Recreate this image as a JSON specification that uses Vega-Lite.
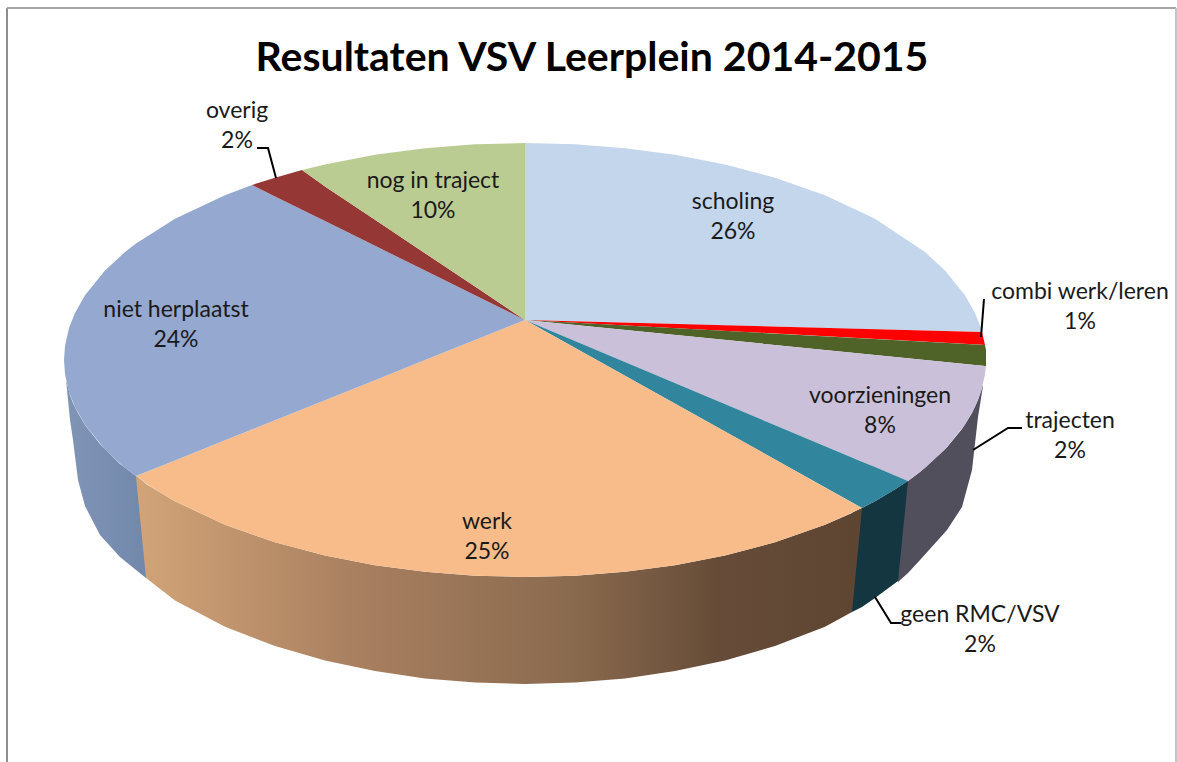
{
"$schema":"https://vega.github.io/schema/vega-lite/v6.json",
"width":1177,"height":762,"padding":0,"autosize":{"type":"none"},
"background":"#ffffff",
"config":{"view":{"stroke":null},"axis":{"disable":true}},
"title":{"text":"Resultaten VSV Leerplein 2014-2015","orient":"top","anchor":"middle","frame":"group","font":"Lato","fontWeight":"bold","fontSize":41,"color":"#000000","baseline":"middle","dx":3.5,"dy":100,"offset":0},
"resolve":{"scale":{"color":"independent"}},
"datasets":{
"frame":[
{"side":"left","x":7,"y":8},{"side":"left","x":7,"y":762},
{"side":"top","x":7,"y":8},{"side":"top","x":1176,"y":8},
{"side":"right","x":1176,"y":8},{"side":"right","x":1176,"y":762}
],
"sideGrey":[
{"x":898,"y":487.5,"y2":582},{"x":908,"y":481,"y2":573},{"x":920,"y":471.9,"y2":560},{"x":947,"y":447.3,"y2":530},{"x":962,"y":429,"y2":507},{"x":972,"y":413,"y2":470},{"x":978,"y":400,"y2":417},{"x":983,"y":385,"y2":386}
],
"sideTeal":[
{"x":852,"y":513,"y2":612},{"x":862,"y":508,"y2":607},{"x":875,"y":501.2,"y2":598},{"x":898,"y":487.5,"y2":581},{"x":908,"y":481,"y2":481}
],
"sideNiet":[
{"x":66,"y":380,"y2":380},{"x":70,"y":395,"y2":420},{"x":73,"y":403,"y2":440},{"x":78,"y":413,"y2":480},{"x":85,"y":425,"y2":506},{"x":100,"y":444,"y2":535},{"x":120,"y":464,"y2":557},{"x":136,"y":476,"y2":570},{"x":146,"y":484,"y2":578}
],
"sideWerk":[
{"x":136,"y":476.5,"y2":476.5},{"x":146,"y":484,"y2":578},{"x":175,"y":501.2,"y2":600.4},{"x":225,"y":524.8,"y2":626.7},{"x":275,"y":542.3,"y2":646},{"x":325,"y":555.5,"y2":660.6},{"x":375,"y":565.2,"y2":671.1},{"x":425,"y":571.8,"y2":678.4},{"x":475,"y":575.7,"y2":682.6},{"x":525,"y":577,"y2":684},{"x":575,"y":575.7,"y2":682.6},{"x":625,"y":571.8,"y2":678.4},{"x":675,"y":565.2,"y2":671.1},{"x":725,"y":555.5,"y2":660.6},{"x":775,"y":542.3,"y2":646},{"x":825,"y":524.8,"y2":626.7},{"x":852,"y":513,"y2":612},{"x":862,"y":508,"y2":508}
],
"slices":[
{"slice":"scholing","x":525,"y":143,"y2":320},{"slice":"scholing","x":575,"y":144.3,"y2":321.3},{"slice":"scholing","x":625,"y":148.2,"y2":322.6},{"slice":"scholing","x":675,"y":154.8,"y2":323.9},{"slice":"scholing","x":725,"y":164.5,"y2":325.3},{"slice":"scholing","x":775,"y":177.7,"y2":326.6},{"slice":"scholing","x":825,"y":195.2,"y2":327.9},{"slice":"scholing","x":875,"y":218.8,"y2":329.2},{"slice":"scholing","x":925,"y":252.1,"y2":330.5},{"slice":"scholing","x":945,"y":270.5,"y2":331},{"slice":"scholing","x":965,"y":295.2,"y2":331.6},{"slice":"scholing","x":975,"y":312.9,"y2":331.8},{"slice":"scholing","x":981,"y":328.1,"y2":332},{"slice":"scholing","x":982,"y":332,"y2":332},
{"slice":"combi werk/leren","x":525,"y":320,"y2":320},{"slice":"combi werk/leren","x":982,"y":332,"y2":344.8},{"slice":"combi werk/leren","x":985,"y":345,"y2":345},
{"slice":"trajecten","x":525,"y":320,"y2":320},{"slice":"trajecten","x":985,"y":345,"y2":365.9},{"slice":"trajecten","x":986,"y":350,"y2":366},
{"slice":"voorzieningen","x":525,"y":320,"y2":320},{"slice":"voorzieningen","x":908,"y":358.2,"y2":481},{"slice":"voorzieningen","x":925,"y":359.9,"y2":467.9},{"slice":"voorzieningen","x":945,"y":361.9,"y2":449.5},{"slice":"voorzieningen","x":965,"y":363.9,"y2":424.8},{"slice":"voorzieningen","x":975,"y":364.9,"y2":407.1},{"slice":"voorzieningen","x":981,"y":365.5,"y2":391.9},{"slice":"voorzieningen","x":985,"y":365.9,"y2":374.3},{"slice":"voorzieningen","x":986,"y":366,"y2":366},
{"slice":"geen RMC/VSV","x":525,"y":320,"y2":320},{"slice":"geen RMC/VSV","x":862,"y":461.7,"y2":508},{"slice":"geen RMC/VSV","x":875,"y":467.1,"y2":501.2},{"slice":"geen RMC/VSV","x":895,"y":475.5,"y2":489.4},{"slice":"geen RMC/VSV","x":908,"y":481,"y2":481},
{"slice":"werk","x":136,"y":476,"y2":476},{"slice":"werk","x":150,"y":470.4,"y2":486.2},{"slice":"werk","x":175,"y":460.4,"y2":501.2},{"slice":"werk","x":225,"y":440.3,"y2":524.8},{"slice":"werk","x":275,"y":420.3,"y2":542.3},{"slice":"werk","x":325,"y":400.2,"y2":555.5},{"slice":"werk","x":375,"y":380.2,"y2":565.2},{"slice":"werk","x":425,"y":360.1,"y2":571.8},{"slice":"werk","x":475,"y":340,"y2":575.7},{"slice":"werk","x":525,"y":320,"y2":577},{"slice":"werk","x":575,"y":347.9,"y2":575.7},{"slice":"werk","x":625,"y":375.8,"y2":571.8},{"slice":"werk","x":675,"y":403.7,"y2":565.2},{"slice":"werk","x":725,"y":431.6,"y2":555.5},{"slice":"werk","x":775,"y":459.5,"y2":542.3},{"slice":"werk","x":825,"y":487.4,"y2":524.8},{"slice":"werk","x":862,"y":508,"y2":508},
{"slice":"niet herplaatst","x":64,"y":360,"y2":360},{"slice":"niet herplaatst","x":65,"y":345.7,"y2":374.3},{"slice":"niet herplaatst","x":69,"y":328.1,"y2":391.9},{"slice":"niet herplaatst","x":75,"y":312.9,"y2":407.1},{"slice":"niet herplaatst","x":85,"y":295.2,"y2":424.8},{"slice":"niet herplaatst","x":105,"y":270.5,"y2":449.5},{"slice":"niet herplaatst","x":125,"y":252.1,"y2":467.9},{"slice":"niet herplaatst","x":136,"y":243.5,"y2":476},{"slice":"niet herplaatst","x":175,"y":218.8,"y2":460.4},{"slice":"niet herplaatst","x":225,"y":195.2,"y2":440.3},{"slice":"niet herplaatst","x":252,"y":185,"y2":429.5},{"slice":"niet herplaatst","x":275,"y":196.4,"y2":420.3},{"slice":"niet herplaatst","x":325,"y":221.1,"y2":400.2},{"slice":"niet herplaatst","x":375,"y":245.8,"y2":380.2},{"slice":"niet herplaatst","x":425,"y":270.6,"y2":360.1},{"slice":"niet herplaatst","x":475,"y":295.3,"y2":340},{"slice":"niet herplaatst","x":525,"y":320,"y2":320},
{"slice":"overig","x":252,"y":185,"y2":185},{"slice":"overig","x":275,"y":177.7,"y2":196.4},{"slice":"overig","x":302,"y":170,"y2":209.7},{"slice":"overig","x":325,"y":186.4,"y2":221.1},{"slice":"overig","x":375,"y":219.8,"y2":245.8},{"slice":"overig","x":425,"y":253.2,"y2":270.6},{"slice":"overig","x":475,"y":286.6,"y2":295.3},{"slice":"overig","x":525,"y":320,"y2":320},
{"slice":"nog in traject","x":302,"y":170,"y2":170},{"slice":"nog in traject","x":325,"y":164.5,"y2":186.4},{"slice":"nog in traject","x":375,"y":154.8,"y2":219.8},{"slice":"nog in traject","x":425,"y":148.2,"y2":253.2},{"slice":"nog in traject","x":475,"y":144.3,"y2":286.6},{"slice":"nog in traject","x":525,"y":143,"y2":320}
],
"leaders":[
{"slice":"combi werk/leren","x":981,"y":337,"o":1},{"slice":"combi werk/leren","x":984,"y":299,"o":2},
{"slice":"trajecten","x":973,"y":450,"o":1},{"slice":"trajecten","x":1008,"y":428,"o":2},{"slice":"trajecten","x":1022,"y":428,"o":3},
{"slice":"geen RMC/VSV","x":875,"y":597,"o":1},{"slice":"geen RMC/VSV","x":891,"y":623,"o":2},{"slice":"geen RMC/VSV","x":901,"y":623,"o":3},
{"slice":"overig","x":276,"y":178,"o":1},{"slice":"overig","x":268,"y":148,"o":2},{"slice":"overig","x":257,"y":148,"o":3}
],
"labels":[
{"slice":"scholing","share":0.26,"x":733,"y":216.5},
{"slice":"combi werk/leren","share":0.01,"x":1080,"y":307},
{"slice":"voorzieningen","share":0.08,"x":880,"y":410.5},
{"slice":"trajecten","share":0.02,"x":1070,"y":436},
{"slice":"geen RMC/VSV","share":0.02,"x":980,"y":630},
{"slice":"werk","share":0.25,"x":487,"y":536.5},
{"slice":"niet herplaatst","share":0.24,"x":176,"y":324.5},
{"slice":"overig","share":0.02,"x":237,"y":126},
{"slice":"nog in traject","share":0.10,"x":433,"y":196}
]
},
"encoding":{
"x":{"field":"x","type":"quantitative","scale":{"domain":[0,1177],"zero":false,"nice":false},"axis":null},
"y":{"field":"y","type":"quantitative","stack":null,"scale":{"domain":[762,0],"zero":false,"nice":false},"axis":null}
},
"layer":[
{"data":{"name":"frame"},"mark":{"type":"line","strokeWidth":2},"encoding":{"color":{"field":"side","type":"nominal","legend":null,"scale":{"domain":["left","top","right"],"range":["#8e8e8e","#a6a6a6","#c4c4c4"]}}}},
{"data":{"name":"sideGrey"},"mark":{"type":"area","orient":"vertical","color":"#524f5c"},"encoding":{"y2":{"field":"y2"}}},
{"data":{"name":"sideTeal"},"mark":{"type":"area","orient":"vertical","color":"#143640"},"encoding":{"y2":{"field":"y2"}}},
{"data":{"name":"sideNiet"},"mark":{"type":"area","orient":"vertical","color":{"gradient":"linear","x1":0,"y1":0,"x2":1,"y2":0,"stops":[{"offset":0,"color":"#8094b6"},{"offset":1,"color":"#7288aa"}]}},"encoding":{"y2":{"field":"y2"}}},
{"data":{"name":"sideWerk"},"mark":{"type":"area","orient":"vertical","color":{"gradient":"linear","x1":0,"y1":0,"x2":1,"y2":0,"stops":[{"offset":0,"color":"#d2a478"},{"offset":0.3,"color":"#a98060"},{"offset":0.6,"color":"#8a6a4e"},{"offset":0.8,"color":"#664c38"},{"offset":1,"color":"#5e4532"}]}},"encoding":{"y2":{"field":"y2"}}},
{"data":{"name":"slices"},"mark":{"type":"area","orient":"vertical"},"encoding":{"y2":{"field":"y2"},"color":{"field":"slice","type":"nominal","legend":null,"scale":{"domain":["scholing","combi werk/leren","trajecten","voorzieningen","geen RMC/VSV","werk","niet herplaatst","overig","nog in traject"],"range":["#c3d6ec","#ff0000","#4f6228","#cbc0d9","#31859c","#f7bc8a","#95a8cf","#953735","#bbcc92"]}}}},
{"data":{"name":"leaders"},"mark":{"type":"line","color":"#000000","strokeWidth":2},"encoding":{"detail":{"field":"slice"},"order":{"field":"o","type":"ordinal"}}},
{"data":{"name":"labels"},"mark":{"type":"text","font":"Lato","fontSize":23,"color":"#1a1a1a","align":"center","baseline":"middle","dy":-15},"encoding":{"text":{"field":"slice"}}},
{"data":{"name":"labels"},"mark":{"type":"text","font":"Lato","fontSize":23,"color":"#1a1a1a","align":"center","baseline":"middle","dy":15},"encoding":{"text":{"field":"share","format":".0%"}}}
]
}
